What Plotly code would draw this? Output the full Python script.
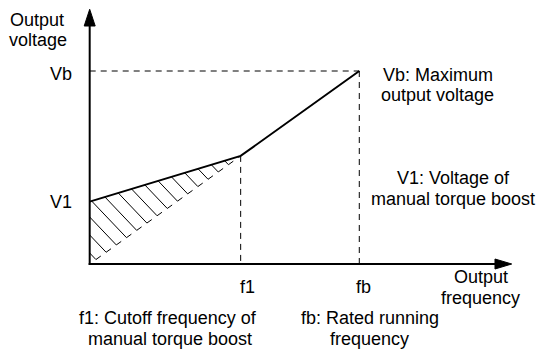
import math
import plotly.graph_objects as go

# Characteristic points of the V/f curve (normalised to the rated point)
freq_labels = ["f1", "fb"]
freq_values = [0.56, 1.0]
volt_labels = ["V1", "Vb"]
volt_values = [0.323, 1.0]

f1, fb = freq_values
V1, Vb = volt_values
V_knee = Vb * f1 / fb  # boost blends into the linear V/f line at f1

# Two-line explanatory notes: (line 1, line 2, centre x of each line, mid baseline y px)
notes = [
    ("Output", "voltage", 37.0, 37.5, 35.9),
    ("Output", "frequency", 480.8, 480.8, 293.6),
    ("Vb: Maximum", "output voltage", 437.5, 437.0, 90.9),
    ("V1: Voltage of", "manual torque boost", 453.0, 453.3, 194.6),
    ("f1: Cutoff frequency of", "manual torque boost", 168.0, 170.0, 334.6),
    ("fb: Rated running", "frequency", 370.0, 369.0, 334.6),
]
PITCH = 20.3  # baseline-to-baseline distance of the two note lines

W, H = 540, 349
X_RANGE = [-0.3327, 1.6703]
Y_RANGE = [-0.4404, 1.3679]
SX = W / (X_RANGE[1] - X_RANGE[0])  # pixels per frequency unit
SY = H / (Y_RANGE[1] - Y_RANGE[0])  # pixels per voltage unit

FONT = dict(family="Liberation Sans, Arial, sans-serif", size=18, color="black")
HALF_LINE = (0.905 - 0.212) / 2 * FONT["size"]  # baseline -> text box centre


def dx(px):
    return px / SX


def dy(px):
    return px / SY


fig = go.Figure()

# V/f curve with manual torque boost
fig.add_trace(go.Scatter(
    x=[0, f1, fb], y=[V1, V_knee, Vb], mode="lines",
    line=dict(color="black", width=2), hoverinfo="skip", showlegend=False,
))

# Hatched boost area between the boosted curve and the linear V/f line
K = 1.05          # hatch slope (screen pixels, falling to the right)
STEP = 18.0       # hatch spacing
TICK = 6.0        # short stroke along the linear V/f line
m_low = (V_knee * SY) / (f1 * SX)
s_up = ((V_knee - V1) * SY) / (f1 * SX)
A = V1 * SY
C_end = V_knee * SY + K * f1 * SX
ux = 1 / math.sqrt(1 + m_low ** 2)
hx, hy = [], []
C = 11.0
while C < C_end:
    if C <= A:
        X0, Y0 = 0.0, C
    else:
        X0 = (C - A) / (s_up + K)
        Y0 = A + s_up * X0
    X1 = C / (m_low + K)
    Y1 = m_low * X1
    hx += [X0 / SX, X1 / SX, None]
    hy += [Y0 / SY, Y1 / SY, None]
    X2 = min(X1 + TICK * ux, f1 * SX)
    Y2 = m_low * X2
    hx += [X1 / SX, X2 / SX, None]
    hy += [Y1 / SY, Y2 / SY, None]
    C += STEP
fig.add_trace(go.Scatter(
    x=hx, y=hy, mode="lines", line=dict(color="black", width=1),
    hoverinfo="skip", showlegend=False,
))

dash = dict(color="black", width=1, dash="6px,5px")
shapes = [
    dict(type="line", x0=0, y0=Vb, x1=fb, y1=Vb, line=dash),
    dict(type="line", x0=fb, y0=Vb, x1=fb, y1=0, line=dash),
    dict(type="line", x0=f1, y0=V_knee, x1=f1, y1=0, line=dash),
]

# Axes with arrow heads
X_END, X_TIP = dx(495 - 89.7), dx(511.7 - 89.7)
Y_END, Y_TIP = dy(264 - 26), dy(264 - 9.3)
axis = dict(color="black", width=2)
shapes += [
    dict(type="line", x0=-dx(1), y0=0, x1=X_END, y1=0, line=axis),
    dict(type="line", x0=0, y0=-dy(1), x1=0, y1=Y_END, line=axis),
    dict(type="path",
         path=f"M {X_END},{-dy(5)} L {X_TIP},0 L {X_END},{dy(5)} Z",
         fillcolor="black", line=dict(color="black", width=1)),
    dict(type="path",
         path=f"M {-dx(5.5)},{Y_END} L 0,{Y_TIP} L {dx(5.5)},{Y_END} Z",
         fillcolor="black", line=dict(color="black", width=1)),
]

annotations = []
# Axis value labels
for lab, v, ys in zip(volt_labels, volt_values, [0.0, -2.8]):
    annotations.append(dict(
        x=0, y=v, xref="x", yref="y", text=lab, showarrow=False,
        xanchor="right", yanchor="middle", xshift=-18, yshift=ys,
        font=FONT, borderpad=0, borderwidth=0,
    ))
for lab, f, xs in zip(freq_labels, freq_values, [7.2, 4.5]):
    annotations.append(dict(
        x=f, y=0, xref="x", yref="y", text=lab, showarrow=False,
        xanchor="center", yanchor="middle", xshift=xs,
        yshift=-(293.7 - HALF_LINE - 264),
        font=FONT, borderpad=0, borderwidth=0,
    ))
for line1, line2, cx1, cx2, mid in notes:
    for text, cx, base in ((line1, cx1, mid - PITCH / 2),
                           (line2, cx2, mid + PITCH / 2)):
        annotations.append(dict(
            x=cx / W, y=1 - (base - HALF_LINE) / H, xref="paper", yref="paper",
            text=text, showarrow=False, xanchor="center", yanchor="middle",
            font=FONT, borderpad=0, borderwidth=0,
        ))

fig.update_layout(
    width=W, height=H, autosize=False,
    margin=dict(l=0, r=0, t=0, b=0, pad=0),
    paper_bgcolor="white", plot_bgcolor="white",
    xaxis=dict(range=X_RANGE, visible=False, fixedrange=True),
    yaxis=dict(range=Y_RANGE, visible=False, fixedrange=True),
    shapes=shapes, annotations=annotations, showlegend=False,
)

fig.write_html("out.html", config={"displayModeBar": False})
